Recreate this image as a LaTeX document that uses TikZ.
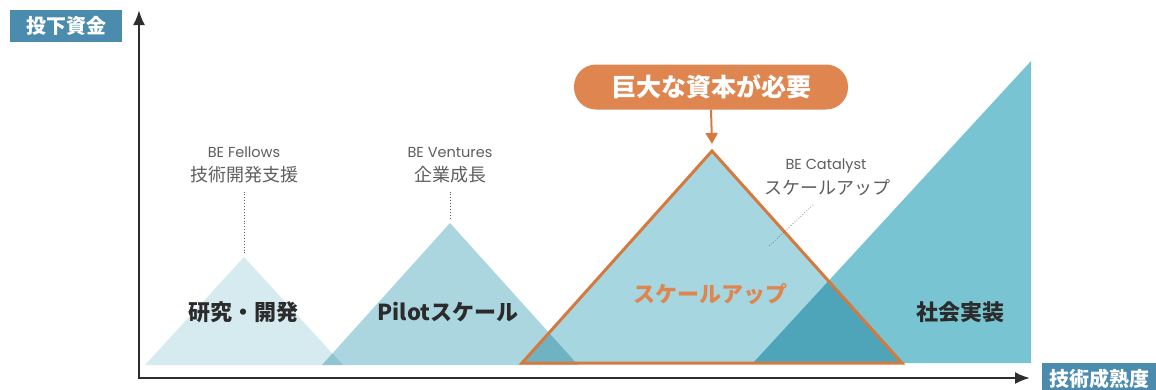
\documentclass[tikz,border=0pt]{standalone}
\usepackage{fontspec}
\setmainfont{Noto Sans CJK JP}
\newfontfamily\latinfont{Poppins}
\usetikzlibrary{arrows.meta}
\definecolor{axblue}{HTML}{4A8BAE}
\definecolor{orangeA}{HTML}{DF8650}
\definecolor{orangeL}{HTML}{D57A3F}
\definecolor{triA}{HTML}{D6EBF0}
\definecolor{triB}{HTML}{ABD6DF}
\definecolor{triC}{HTML}{A6D6E0}
\definecolor{triD}{HTML}{78C4D2}
\definecolor{txtgray}{HTML}{5E5E5E}
\definecolor{txtdark}{HTML}{2B2B2B}
\definecolor{axisgray}{HTML}{2E2E2E}
\tikzset{
  axislabel/.style={fill=axblue, text=white, font=\fontsize{20}{22}\selectfont\bfseries, inner sep=0pt, anchor=center},
  stage/.style={text=txtdark, font=\fontsize{22}{24}\selectfont\bfseries, inner sep=0pt},
  small/.style={text=txtgray, font=\latinfont\fontsize{14.5}{16}\selectfont, inner sep=0pt},
  smalljp/.style={text=txtgray, font=\fontsize{18}{20}\selectfont, inner sep=0pt},
  leader/.style={draw=txtgray, dotted, line width=0.9pt},
  axisline/.style={draw=axisgray, line width=2.4pt, -{Latex[length=15pt,width=12pt]}},
}
\begin{document}
\begin{tikzpicture}[x=1pt,y=-1pt]
\useasboundingbox (0,0) rectangle (1156,389);
% triangles
\fill[triA, blend mode=multiply] (145,365) -- (244,257) -- (343,365) -- cycle;
\fill[triB, blend mode=multiply] (322,365) -- (450,223) -- (578,365) -- cycle;
\fill[triD, blend mode=multiply] (753,363) -- (1031,61) -- (1031,363) -- cycle;
\fill[triC, blend mode=multiply] (522,363) -- (712,153) -- (902,363) -- cycle;
\coordinate (apex) at (712,151);
\draw[orangeL, line width=3pt, line join=miter] (522,363) -- (apex) -- (902,363) -- cycle;
% axes
\coordinate (origin) at (139,378);
\coordinate (ytop) at (139,10);
\coordinate (xend) at (1030,378);
\draw[axisline] (origin) -- (ytop);
\draw[axisline] ([xshift=-1.2pt]origin) -- (xend);
\node[axislabel, minimum width=112pt, minimum height=32pt] (ylab) at (66,26) {投下資金};
\node[axislabel, minimum width=114pt, minimum height=30pt, text depth=0pt] (xlab) at (1099,378) {技術成熟度};
% callout
\node[fill=orangeA, text=white, rounded corners=22pt, minimum width=274pt, minimum height=45pt, inner sep=0pt, font=\fontsize{25}{27}\selectfont\bfseries] (need) at (711,87) {巨大な資本が必要};
\draw[orangeL, line width=2pt, -{Triangle[length=11pt,width=12pt]}] (need.south) -- ([yshift=7pt]apex);
% labels
\node[small] (fel) at (244,152) {BE Fellows};
\node[smalljp] (felj) at (244,175) {技術開発支援};
\coordinate (fel1) at (244,255);
\draw[leader] ([yshift=-8pt]felj.south) -- (fel1);
\node[small] (ven) at (450,152) {BE Ventures};
\node[smalljp] (venj) at (450,175) {企業成長};
\coordinate (ven1) at (450,218);
\draw[leader] ([yshift=-8pt]venj.south) -- (ven1);
\node[small] (cat) at (826,166) {BE Catalyst};
\node[smalljp] (catj) at (827,188) {スケールアップ};
\coordinate (cat0) at (813,205);
\coordinate (cat1) at (768,247);
\draw[leader, line width=0.7pt] (cat0) -- (cat1);
\node[stage] (rd) at (243,312) {研究・開発};
\node[stage] (pilot) at (448,312) {Pilotスケール};
\node[stage, text=orangeA] (su) at (710,294) {スケールアップ};
\node[stage] (soc) at (960,312) {社会実装};
\end{tikzpicture}
\end{document}
